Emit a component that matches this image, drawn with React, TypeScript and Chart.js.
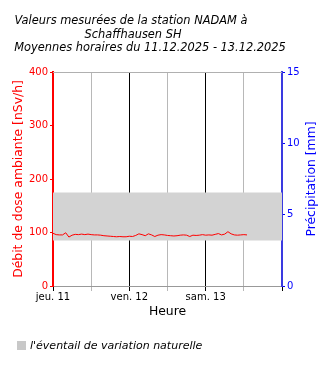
import React, { useEffect, useRef } from "react";
import { Chart, registerables } from "chart.js";

Chart.register(...registerables);

const titleLines = [
  "Valeurs mesurées de la station NADAM à",
  "Schaffhausen SH",
  "Moyennes horaires du 11.12.2025 - 13.12.2025",
];
const dayLabels = ["jeu. 11", "ven. 12", "sam. 13"];
const hours = Array.from({ length: 62 }, (_, i) => i);
const doseValues = [
  98.5, 96, 95.5, 95.5, 99.5, 91.5, 95, 96.5, 96, 97, 96, 97, 96, 95.5, 95.5, 95,
  94, 93.5, 93, 92.5, 92, 92.5, 92, 92, 93, 92.5, 94.5, 97.5, 96, 94, 97.5, 95.5,
  92.5, 95, 96, 95.5, 94.5, 94, 93.5, 94, 95, 95.5, 95, 92.5, 95, 94.5, 95, 96,
  95, 95.5, 95, 96.5, 98, 95.5, 97, 101.5, 97.5, 95.5, 95, 95.5, 96, 95.5,
];
const bandLow = 85;
const bandHigh = 175;
const bandLabel = "l'éventail de variation naturelle";
const rightTitle = "Précipitation [mm]";
const xMax = 72;

const FONT = "'DejaVu Sans', sans-serif";

export default function App() {
  const ref = useRef<HTMLCanvasElement>(null);
  useEffect(() => {
    if (!ref.current) return;
    const textPlugin = {
      id: "texts",
      afterDraw(chart: any) {
        const ctx = chart.ctx;
        const ca = chart.chartArea;
        ctx.save();
        // top border
        ctx.strokeStyle = "#b0b0b0";
        ctx.lineWidth = 1;
        ctx.beginPath();
        ctx.moveTo(ca.left, ca.top + 0.5);
        ctx.lineTo(ca.right, ca.top + 0.5);
        ctx.stroke();
        // title
        ctx.fillStyle = "#000";
        ctx.font = `italic 11.4px ${FONT}`;
        ctx.textAlign = "center";
        ctx.textBaseline = "middle";
        const centers = [131, 133, 150];
        titleLines.forEach((t, i) => ctx.fillText(t, centers[i], 21.5 + i * 13.5));
        // legend
        ctx.fillStyle = "#c8c8c8";
        ctx.fillRect(17, 341, 9, 9);
        ctx.fillStyle = "#000";
        ctx.font = `italic 11px ${FONT}`;
        ctx.textAlign = "left";
        ctx.fillText(bandLabel, 30, 346);
        // right axis title (reads bottom to top)
        ctx.save();
        ctx.translate(312, (ca.top + ca.bottom) / 2);
        ctx.rotate(-Math.PI / 2);
        ctx.fillStyle = "#0000ff";
        ctx.font = `12.4px ${FONT}`;
        ctx.textAlign = "center";
        ctx.fillText(rightTitle, 0, 0);
        ctx.restore();
        ctx.restore();
      },
    };
    const chart = new Chart(ref.current, {
      type: "line",
      data: {
        datasets: [
          {
            label: "dose",
            data: hours.map((h, i) => ({ x: h, y: doseValues[i] })),
            borderColor: "#ff0000",
            borderWidth: 1,
            pointRadius: 0,
            fill: false,
            yAxisID: "y",
            order: 0,
          },
          {
            label: "low",
            data: [
              { x: 0, y: bandLow },
              { x: xMax, y: bandLow },
            ],
            borderWidth: 0,
            borderColor: "rgba(0,0,0,0)",
            pointRadius: 0,
            fill: false,
            yAxisID: "y",
            order: 2,
          },
          {
            label: bandLabel,
            data: [
              { x: 0, y: bandHigh },
              { x: xMax, y: bandHigh },
            ],
            borderWidth: 0,
            borderColor: "rgba(0,0,0,0)",
            backgroundColor: "#d3d3d3",
            pointRadius: 0,
            fill: "-1",
            yAxisID: "y",
            order: 1,
          },
        ],
      },
      options: {
        responsive: false,
        animation: false,
        layout: { padding: { top: 72, bottom: 50, left: 0, right: 0 } },
        plugins: {
          legend: { display: false },
          title: { display: false },
          tooltip: { enabled: false },
        },
        scales: {
          x: {
            type: "linear",
            min: 0,
            max: xMax,
            afterFit: (s: any) => {
              s.height = 34;
            },
            ticks: {
              stepSize: 12,
              autoSkip: false,
              maxRotation: 0,
              color: "#000",
              font: { family: FONT, size: 10 },
              padding: 0,
              callback: (v: any) => (Number(v) % 24 === 0 && v < xMax ? dayLabels[Number(v) / 24] : ""),
            },
            grid: {
              color: (c: any) => (c.tick && c.tick.value % 24 === 0 ? "#000" : "#b8b8b8"),
              tickLength: 5,
            },
            border: { color: "#999", width: 1 },
            title: {
              display: true,
              text: "Heure",
              color: "#000",
              font: { family: FONT, size: 12.4 },
              padding: { top: 4, bottom: 1 },
            },
          },
          y: {
            position: "left",
            min: 0,
            max: 400,
            afterFit: (s: any) => {
              s.width = 53;
            },
            ticks: { stepSize: 100, color: "#ff0000", font: { family: FONT, size: 10 }, padding: 2 },
            grid: { drawOnChartArea: false, color: "#ff0000", tickLength: 3 },
            border: { color: "#ff0000", width: 2 },
            title: {
              display: true,
              text: "Débit de dose ambiante [nSv/h]",
              color: "#ff0000",
              font: { family: FONT, size: 12.4 },
              padding: { top: 11, bottom: 0 },
            },
          },
          y1: {
            position: "right",
            min: 0,
            max: 15,
            afterFit: (s: any) => {
              s.width = 48;
            },
            ticks: { stepSize: 5, color: "#0000ff", font: { family: FONT, size: 10 }, padding: 2 },
            grid: { drawOnChartArea: false, color: "#0000ff", tickLength: 3 },
            border: { color: "#3a3ae0", width: 2 },
            title: { display: false },
          },
        },
      },
      plugins: [textPlugin],
    } as any);
    return () => chart.destroy();
  }, []);
  return (
    <div style={{ position: "fixed", left: 0, top: 0, width: 330, height: 370, background: "#fff" }}>
      <canvas ref={ref} width={330} height={370} />
    </div>
  );
}
